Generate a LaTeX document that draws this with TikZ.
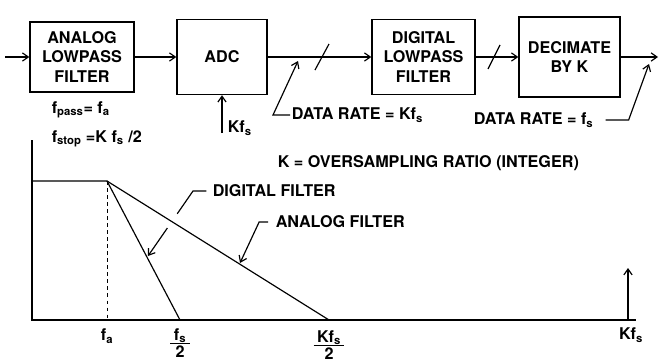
\documentclass[tikz,border=0pt]{standalone}
\usepackage{fontspec}
\setmainfont{TeX Gyre Heros}
\usetikzlibrary{arrows.meta,calc}
\setlength{\arrayrulewidth}{1.2pt}
\newcommand{\halfof}[1]{\begin{tabular}{@{\hspace{3pt}}c@{\hspace{3pt}}}#1\\[-3pt]\hline 2\end{tabular}}

\begin{document}
\begin{tikzpicture}[
    x=0.03cm, y=-0.03cm,
    >={Straight Barb[length=5pt,width=7pt]},
    line width=1pt,
    font=\fontsize{13.8}{17}\selectfont\bfseries,
    block/.style={draw, line width=1.2pt, align=center, inner sep=0pt},
    lbl/.style={inner sep=1pt}
]
  \useasboundingbox (0,0) rectangle (662,362);

  % blocks
  \node[block, minimum width=3.12cm, minimum height=2.1cm]  (lpf)  at (82,57)    {ANALOG\\LOWPASS\\FILTER};
  \node[block, minimum width=2.7cm,  minimum height=2.25cm] (adc)  at (222,57)   {ADC};
  \node[block, minimum width=3.09cm, minimum height=2.25cm] (dlpf) at (423.5,57) {DIGITAL\\LOWPASS\\FILTER};
  \node[block, minimum width=3.03cm, minimum height=2.4cm]  (dec)  at (569.5,57) {DECIMATE\\BY K};
  \coordinate (in)  at (5,57);
  \coordinate (out) at (658,57);
  \coordinate (clk) at (222,133);

  % signal path
  \draw[->] (in) -- (lpf);
  \draw[->] (lpf) -- (adc);
  \draw[->] (adc) -- (dlpf);
  \draw[->] (dlpf) -- (dec);
  \draw[->] (dec) -- (out);
  \draw (315,70) -- (329,44);
  \draw (488,69) -- (500,45);
  \draw[->] (clk) -- (adc.south);

  % labels
  \node[lbl, anchor=west] (kfsclk) at (226,128) {Kf\textsubscript{s}};
  \node[lbl, anchor=west] (fpass)  at (50,110)  {f\textsubscript{pass}= f\textsubscript{a}};
  \node[lbl, anchor=west] (fstop)  at (50,139)  {f\textsubscript{stop} =K f\textsubscript{s} /2};
  \node[lbl, anchor=west] (rateK)  at (290,115) {DATA RATE = Kf\textsubscript{s}};
  \node[lbl, anchor=west] (rateF)  at (472,120) {DATA RATE = f\textsubscript{s}};
  \node[lbl, anchor=west] (kdef)   at (276,163) {K = OVERSAMPLING RATIO (INTEGER)};
  \coordinate (tipK) at (298,61);
  \coordinate (tipF) at (649,64);
  \draw[->] (rateK.west) -- ++(-17,0) -- (tipK);
  \draw[->] ([xshift=9pt]rateF.east) -- ++(23,0) -- (tipF);

  % response plot
  \coordinate (O)     at (32,320);
  \coordinate (top)   at (32,140);
  \coordinate (end)   at (636,320);
  \coordinate (knee)  at (107,181);
  \coordinate (dstop) at (180,320);
  \coordinate (astop) at (329,320);
  \coordinate (kfs)   at (628,320);
  \draw (top) -- (O) -- (end);
  \draw (top |- knee) -- (knee) -- (dstop);
  \draw (knee) -- (astop);
  \draw[dashed, thin] (knee) -- (knee |- O);
  \draw[->] (kfs) -- ++(0,-52);

  \node[lbl] (fa)      at (107,336) {f\textsubscript{a}};
  \node[lbl] (fshalf)  at (180,345) {\halfof{f\textsubscript{s}}};
  \node[lbl] (kfshalf) at (329,347) {\halfof{Kf\textsubscript{s}}};
  \node[lbl] (kfslbl)  at (631,335) {Kf\textsubscript{s}};

  \node[lbl, anchor=west] (digf) at (211,191) {DIGITAL FILTER};
  \node[lbl, anchor=west] (anaf) at (274,222) {ANALOG FILTER};
  \coordinate (digk)   at (193,191);
  \coordinate (digtip) at (148,256);
  \coordinate (anatip) at (240,263);
  \draw ([xshift=-4pt]digf.west) -- (digk) -- ($(digk)!0.35!(digtip)$);
  \draw[->] ($(digk)!0.57!(digtip)$) -- (digtip);
  \draw[->] ([xshift=-5pt]anaf.west) -- ++(-9,0) -- (anatip);
\end{tikzpicture}
\end{document}
